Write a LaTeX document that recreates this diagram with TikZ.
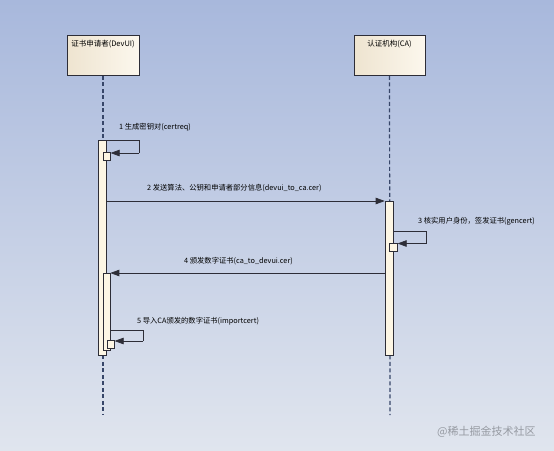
\documentclass[tikz,border=0pt]{standalone}
\usepackage{fontspec}
\setmainfont{Noto Sans CJK SC}
\usetikzlibrary{arrows.meta,calc}
\definecolor{bgtop}{RGB}{168,184,220}
\definecolor{bgbot}{RGB}{224,229,238}
\definecolor{boxl}{RGB}{238,228,208}
\definecolor{boxr}{RGB}{252,247,237}
\definecolor{actfill}{RGB}{253,246,228}
\definecolor{lifec}{RGB}{55,70,105}
\definecolor{linec}{RGB}{45,45,55}
\definecolor{wmark}{RGB}{150,154,162}
\tikzset{
  head/.style={draw=linec, line width=0.8pt, left color=boxl, right color=boxr, minimum width=72pt, minimum height=40pt, inner sep=0pt},
  headtxt/.style={font=\fontsize{7.5}{9}\selectfont, inner sep=0pt, text=black},
  lifeline/.style={draw=lifec, line width=1.2pt, dash pattern=on 4pt off 2.5pt},
  act/.style={draw=linec, line width=0.6pt, fill=actfill, minimum width=8pt, inner sep=0pt, anchor=north},
  small/.style={draw=linec, line width=0.6pt, fill=actfill, minimum width=7pt, minimum height=8pt, inner sep=0pt, anchor=north west},
  msg/.style={draw=linec, line width=0.7pt, -{Triangle[length=9pt,width=6.5pt]}},
  lbl/.style={font=\fontsize{7.3}{8}\selectfont, inner sep=0pt, anchor=west, text=black},
}
\begin{document}
\begin{tikzpicture}[x=1pt,y=-1pt]
\useasboundingbox (0,0) rectangle (554,450);
\shade[top color=bgtop, bottom color=bgbot] (0,0) rectangle (554,450);

% headers
\node[head] (dev) at (103,55.5) {};
\node[headtxt] (devt) at (103,44) {证书申请者(DevUI)};
\node[head, minimum width=71pt] (ca) at (389.5,55.5) {};
\node[headtxt] (cat) at (389.5,44) {认证机构(CA)};

% lifeline ends
\coordinate (devend) at (103,415);
\coordinate (caend) at (390,415);
\draw[lifeline] (dev.south) -- (devend);
\draw[lifeline] (ca.south) -- (caend);

% activation bars
\node[act, minimum height=215pt] (a1) at (102,140) {};
\node[act, minimum width=7pt, minimum height=77pt] (a1b) at (106.5,273) {};
\node[act, minimum height=154pt] (a2) at (389,201) {};

% self call 1
\node[small] (s1) at (103,152) {};
\coordinate (c1a) at (139,140);
\coordinate (c1b) at (139,153);
\draw[draw=linec, line width=0.7pt] (a1.north east) -- (c1a) -- (c1b);
\draw[msg] (c1b) -- (s1.east |- c1b);
\node[lbl] (l1) at (119,127) {1 生成密钥对(certreq)};

% message 2
\coordinate (m2) at (0,201);
\draw[msg] (a1.east |- m2) -- (a2.north west);
\node[lbl] (l2) at (147,188) {2 发送算法、公钥和申请者部分信息(devui\_to\_ca.cer)};

% self call 3
\node[small, minimum width=8pt] (s3) at (389,243) {};
\coordinate (c3s) at (393,231);
\coordinate (c3a) at (426,231);
\coordinate (c3b) at (426,243.5);
\draw[draw=linec, line width=0.7pt] (c3s) -- (c3a) -- (c3b);
\draw[msg] (c3b) -- (s3.east |- c3b);
\node[lbl] (l3) at (418,221) {3 核实用户身份，签发证书(gencert)};

% message 4
\draw[msg] (a2.west |- a1b.north) -- (a1b.north east);
\node[lbl] (l4) at (184,261) {4 颁发数字证书(ca\_to\_devui.cer)};

% self call 5
\node[small] (s5) at (107,340) {};
\coordinate (c5s) at (110,330);
\coordinate (c5a) at (143,330);
\coordinate (c5b) at (143,341);
\draw[draw=linec, line width=0.7pt] (c5s) -- (c5a) -- (c5b);
\draw[msg] (c5b) -- (s5.east |- c5b);
\node[lbl] (l5) at (137,321) {5 导入CA颁发的数字证书(importcert)};

% watermark
\node[font=\fontsize{11}{12}\selectfont, text=wmark, inner sep=0pt, anchor=west] (wm) at (437,432) {@稀土掘金技术社区};
\end{tikzpicture}
\end{document}
